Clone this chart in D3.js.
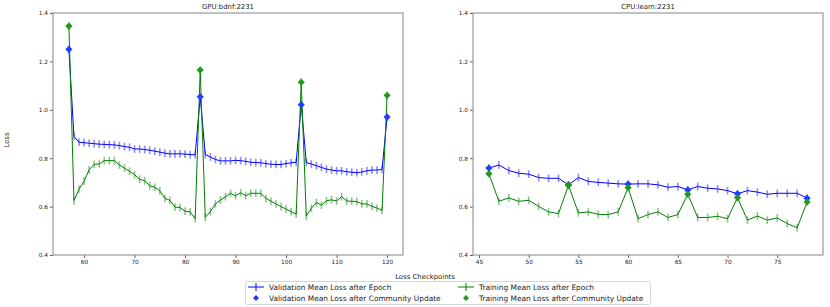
<!DOCTYPE html>
<html>
<head>
<meta charset="utf-8">
<script src="https://cdn.jsdelivr.net/npm/d3@7"></script>
<style>
  body { margin: 0; background: #fff; }
  svg { display: block; font-family: "DejaVu Sans", sans-serif; }
</style>
</head>
<body>
<svg id="chart" width="830" height="307"></svg>
<script>
// ---------- DATA ----------
const leftTitle = "GPU:bdnf:2231";
const rightTitle = "CPU:learn:2231";

const leftX = [57,58,59,60,61,62,63,64,65,66,67,68,69,70,71,72,73,74,75,76,77,78,79,80,81,82,83,
  84,85,86,87,88,89,90,91,92,93,94,95,96,97,98,99,100,101,102,103,
  104,105,106,107,108,109,110,111,112,113,114,115,116,117,118,119,120];
const leftVal = [1.250,0.890,0.866,0.864,0.862,0.860,0.858,0.857,0.856,0.855,0.852,0.848,0.845,0.838,0.838,0.836,0.833,0.829,0.825,0.821,0.818,0.818,0.818,0.817,0.815,0.814,1.054,
  0.815,0.805,0.795,0.789,0.789,0.789,0.791,0.790,0.787,0.783,0.782,0.781,0.778,0.775,0.774,0.774,0.778,0.781,0.783,1.021,
  0.782,0.776,0.769,0.762,0.755,0.751,0.748,0.748,0.744,0.742,0.740,0.743,0.748,0.751,0.751,0.753,0.970];
const leftTrain = [1.346,0.625,0.672,0.705,0.752,0.775,0.776,0.790,0.790,0.790,0.772,0.759,0.746,0.732,0.713,0.707,0.686,0.680,0.665,0.634,0.626,0.598,0.596,0.581,0.578,0.550,1.164,
  0.556,0.579,0.611,0.627,0.641,0.655,0.645,0.657,0.645,0.655,0.655,0.655,0.634,0.623,0.611,0.600,0.590,0.579,0.569,1.114,
  0.561,0.593,0.617,0.606,0.624,0.628,0.623,0.641,0.623,0.622,0.621,0.611,0.611,0.601,0.594,0.584,1.060];
const leftCommX = [57, 83, 103, 120];
const leftCommVal = [1.250, 1.054, 1.021, 0.970];
const leftCommTrain = [1.346, 1.164, 1.114, 1.060];

const rightX = [46,47,48,49,50,51,52,53,54,55,56,57,58,59,60,61,62,63,64,65,66,67,68,69,70,71,72,73,74,75,76,77,78];
const rightVal = [0.759,0.772,0.749,0.738,0.734,0.720,0.717,0.717,0.690,0.720,0.704,0.700,0.697,0.694,0.693,0.694,0.694,0.690,0.680,0.683,0.669,0.683,0.676,0.673,0.666,0.653,0.666,0.660,0.651,0.655,0.655,0.655,0.635];
const rightTrain = [0.736,0.622,0.636,0.622,0.626,0.601,0.578,0.571,0.688,0.574,0.578,0.568,0.567,0.578,0.678,0.550,0.567,0.578,0.555,0.567,0.651,0.555,0.555,0.560,0.550,0.637,0.544,0.561,0.544,0.553,0.530,0.512,0.619];
const rightCommX = [46, 54, 60, 66, 71, 78];
const rightCommVal = [0.759, 0.690, 0.693, 0.669, 0.653, 0.635];
const rightCommTrain = [0.736, 0.688, 0.678, 0.651, 0.637, 0.619];

const yTicks = [0.4, 0.6, 0.8, 1.0, 1.2, 1.4];
const leftXTicks = [60, 70, 80, 90, 100, 110, 120];
const rightXTicks = [45, 50, 55, 60, 65, 70, 75];

const legendLabels = [
  "Validation Mean Loss after Epoch",
  "Training Mean Loss after Epoch",
  "Validation Mean Loss after Community Update",
  "Training Mean Loss after Community Update"
];
const yLabel = "Loss";
const xLabel = "Loss Checkpoints";

// ---------- STYLE ----------
const BLUE = "#0000ff", GREEN = "#008000";
const BLUE_D = "#1f3cff", GREEN_D = "#1f9a1f";
const ERR = 0.016;
const svg = d3.select("#chart");

// matplotlib-like "D" marker: a square rotated by 45 degrees
function diamondPath(size) {
  return d3.symbol().type(d3.symbolSquare).size(size)();
}

function panel(x0, x1, xs, val, train, cx, cval, ctrain, xTicks, title) {
  const top = 13, bottom = 255;
  const pad = (d3.max(xs) - d3.min(xs)) * 0.05;
  const x = d3.scaleLinear().domain([d3.min(xs) - pad, d3.max(xs) + pad]).range([x0, x1]);
  const y = d3.scaleLinear().domain([0.4, 1.4]).range([bottom, top]);
  const g = svg.append("g");

  const ya = g.append("g").attr("transform", `translate(${x0},0)`)
    .call(d3.axisLeft(y).tickValues(yTicks).tickFormat(d3.format(".1f")).tickSize(3).tickPadding(2));
  const xa = g.append("g").attr("transform", `translate(0,${bottom})`)
    .call(d3.axisBottom(x).tickValues(xTicks).tickSize(3).tickPadding(2));
  [ya, xa].forEach(a => {
    a.select(".domain").remove();
    a.selectAll("line").attr("stroke", "#333").attr("stroke-width", 0.8);
    a.selectAll("text").attr("font-size", 5.8).attr("fill", "#222").attr("font-family", "DejaVu Sans");
  });
  g.append("rect").attr("x", x0).attr("y", top).attr("width", x1 - x0).attr("height", bottom - top)
    .attr("fill", "none").attr("stroke", "#999").attr("stroke-width", 1.2);

  g.append("text").attr("x", (x0 + x1) / 2).attr("y", 9).attr("text-anchor", "middle")
    .attr("font-size", 6.9).attr("fill", "#222").text(title);

  [[val, BLUE], [train, GREEN]].forEach(([vals, col]) => {
    const pts = xs.map((d, i) => [d, vals[i]]);
    g.append("g").selectAll("line").data(pts).join("line")
      .attr("x1", d => x(d[0])).attr("x2", d => x(d[0]))
      .attr("y1", d => y(d[1] - ERR)).attr("y2", d => y(d[1] + ERR))
      .attr("stroke", col).attr("stroke-opacity", 0.45).attr("stroke-width", 1.6);
    g.append("path").datum(pts)
      .attr("d", d3.line().x(d => x(d[0])).y(d => y(d[1])))
      .attr("fill", "none").attr("stroke", col).attr("stroke-width", 1);
  });
  [[cval, BLUE_D], [ctrain, GREEN_D]].forEach(([vals, col]) => {
    g.append("g").selectAll("path").data(cx.map((d, i) => [d, vals[i]])).join("path")
      .attr("transform", d => `translate(${x(d[0])},${y(d[1])}) rotate(45)`)
      .attr("d", diamondPath(26)).attr("fill", col);
  });
}

panel(53, 403, leftX, leftVal, leftTrain, leftCommX, leftCommVal, leftCommTrain, leftXTicks, leftTitle);
panel(473, 823, rightX, rightVal, rightTrain, rightCommX, rightCommVal, rightCommTrain, rightXTicks, rightTitle);

svg.append("text").attr("transform", "translate(9,140) rotate(-90)").attr("text-anchor", "middle")
  .attr("font-size", 6.9).attr("fill", "#222").text(yLabel);
svg.append("text").attr("x", 425).attr("y", 279).attr("text-anchor", "middle")
  .attr("font-size", 6.9).attr("fill", "#222").text(xLabel);

// legend
const lg = svg.append("g");
lg.append("rect").attr("x", 245.5).attr("y", 281.5).attr("width", 405).attr("height", 23).attr("rx", 2)
  .attr("fill", "#fff").attr("stroke", "#ccc").attr("stroke-width", 0.8);
const items = [
  { lab: legendLabels[0], col: BLUE, kind: "line", cx: 256, cy: 287 },
  { lab: legendLabels[1], col: GREEN, kind: "line", cx: 466, cy: 287 },
  { lab: legendLabels[2], col: BLUE_D, kind: "dot", cx: 256, cy: 298 },
  { lab: legendLabels[3], col: GREEN_D, kind: "dot", cx: 466, cy: 298 }
];
items.forEach(it => {
  if (it.kind === "line") {
    lg.append("line").attr("x1", it.cx - 8).attr("x2", it.cx + 8).attr("y1", it.cy).attr("y2", it.cy)
      .attr("stroke", it.col).attr("stroke-width", 1);
    lg.append("line").attr("x1", it.cx).attr("x2", it.cx).attr("y1", it.cy - 4).attr("y2", it.cy + 4)
      .attr("stroke", it.col).attr("stroke-width", 1);
  } else {
    lg.append("path").attr("transform", `translate(${it.cx},${it.cy}) rotate(45)`)
      .attr("d", diamondPath(18)).attr("fill", it.col);
  }
  lg.append("text").attr("x", it.cx + 13).attr("y", it.cy + 2.6).attr("font-size", 7.4)
    .attr("fill", "#222").text(it.lab);
});
</script>
</body>
</html>
